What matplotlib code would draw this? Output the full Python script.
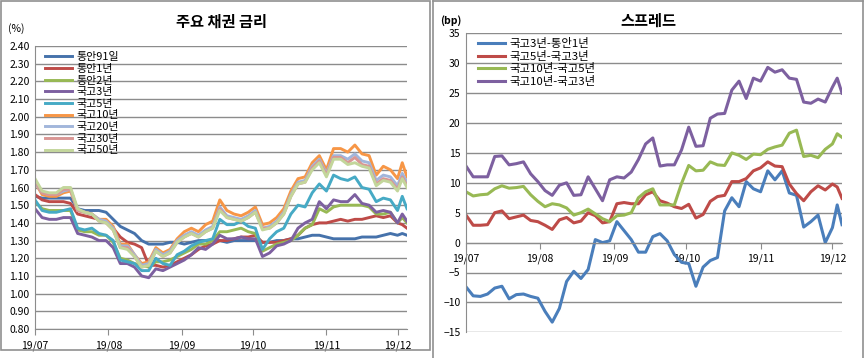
import matplotlib
matplotlib.use('Agg')
import matplotlib.pyplot as plt
import matplotlib.dates as mdates
import matplotlib.ticker as mticker
from matplotlib.patches import Rectangle
from matplotlib.lines import Line2D
import numpy as np
import pandas as pd

plt.rcParams['font.family'] = ['Noto Sans CJK KR', 'DejaVu Sans']

# days after 2019-07-01
days = list(range(0, 154, 3)) + [155, 157]

# 주요 채권 금리 (%)
tb91 = [1.55, 1.54, 1.54, 1.54, 1.54, 1.54, 1.48, 1.47, 1.47, 1.47,
        1.46, 1.42, 1.38, 1.36, 1.34, 1.30, 1.28, 1.28, 1.28, 1.29,
        1.29, 1.28, 1.29, 1.30, 1.30, 1.30, 1.30, 1.29, 1.30, 1.30,
        1.30, 1.30, 1.29, 1.29, 1.30, 1.30, 1.31, 1.31, 1.32, 1.33,
        1.33, 1.32, 1.31, 1.31, 1.31, 1.31, 1.32, 1.32, 1.32, 1.33,
        1.34, 1.33, 1.34, 1.33]
ms1 = [1.56, 1.53, 1.52, 1.52, 1.52, 1.51, 1.45, 1.44, 1.43, 1.42,
       1.41, 1.37, 1.32, 1.29, 1.28, 1.26, 1.16, 1.16, 1.15, 1.16,
       1.18, 1.20, 1.22, 1.25, 1.27, 1.28, 1.30, 1.30, 1.31, 1.32,
       1.32, 1.33, 1.29, 1.29, 1.29, 1.30, 1.31, 1.33, 1.37, 1.39,
       1.40, 1.40, 1.41, 1.42, 1.41, 1.42, 1.42, 1.43, 1.44, 1.43,
       1.44, 1.40, 1.39, 1.37]
ms2 = [1.52, 1.48, 1.47, 1.47, 1.47, 1.47, 1.36, 1.35, 1.35, 1.33,
       1.33, 1.29, 1.20, 1.19, 1.17, 1.16, 1.15, 1.18, 1.18, 1.19,
       1.21, 1.23, 1.25, 1.28, 1.28, 1.30, 1.35, 1.35, 1.36, 1.37,
       1.35, 1.34, 1.24, 1.26, 1.28, 1.29, 1.30, 1.33, 1.37, 1.39,
       1.48, 1.46, 1.49, 1.50, 1.50, 1.50, 1.50, 1.49, 1.45, 1.45,
       1.46, 1.40, 1.43, 1.40]
kt3 = [1.48, 1.43, 1.42, 1.42, 1.43, 1.43, 1.34, 1.33, 1.32, 1.30,
       1.30, 1.26, 1.17, 1.17, 1.15, 1.10, 1.09, 1.14, 1.13, 1.15,
       1.17, 1.19, 1.22, 1.26, 1.25, 1.28, 1.33, 1.31, 1.31, 1.32,
       1.31, 1.31, 1.21, 1.23, 1.27, 1.28, 1.30, 1.37, 1.40, 1.42,
       1.52, 1.48, 1.53, 1.52, 1.52, 1.56, 1.51, 1.50, 1.46, 1.47,
       1.46, 1.40, 1.45, 1.41]
kt5 = [1.53, 1.47, 1.46, 1.46, 1.47, 1.48, 1.37, 1.36, 1.37, 1.34,
       1.33, 1.30, 1.19, 1.18, 1.17, 1.13, 1.13, 1.20, 1.17, 1.16,
       1.22, 1.24, 1.27, 1.29, 1.30, 1.31, 1.42, 1.39, 1.39, 1.41,
       1.38, 1.37, 1.25, 1.31, 1.35, 1.37, 1.45, 1.50, 1.49, 1.57,
       1.62, 1.58, 1.67, 1.65, 1.64, 1.66, 1.60, 1.59, 1.52, 1.54,
       1.53, 1.47, 1.55, 1.48]
kt10 = [1.63, 1.56, 1.55, 1.55, 1.57, 1.58, 1.47, 1.46, 1.45, 1.42,
        1.42, 1.38, 1.28, 1.28, 1.22, 1.17, 1.18, 1.26, 1.23, 1.25,
        1.31, 1.35, 1.37, 1.35, 1.39, 1.41, 1.53, 1.47, 1.45, 1.44,
        1.46, 1.49, 1.39, 1.40, 1.43, 1.48, 1.58, 1.65, 1.66, 1.74,
        1.78, 1.70, 1.82, 1.82, 1.80, 1.84, 1.79, 1.78, 1.67, 1.72,
        1.70, 1.65, 1.74, 1.66]
kt20 = [1.63, 1.57, 1.56, 1.56, 1.58, 1.59, 1.47, 1.46, 1.45, 1.42,
        1.41, 1.37, 1.27, 1.27, 1.22, 1.16, 1.17, 1.25, 1.22, 1.24,
        1.30, 1.33, 1.35, 1.33, 1.36, 1.38, 1.49, 1.44, 1.43, 1.42,
        1.44, 1.47, 1.37, 1.38, 1.41, 1.46, 1.56, 1.63, 1.64, 1.72,
        1.76, 1.68, 1.78, 1.78, 1.76, 1.79, 1.75, 1.74, 1.64, 1.67,
        1.66, 1.61, 1.68, 1.63]
kt30 = [1.64, 1.57, 1.56, 1.56, 1.59, 1.59, 1.47, 1.46, 1.45, 1.41,
        1.40, 1.36, 1.26, 1.26, 1.21, 1.15, 1.16, 1.24, 1.21, 1.23,
        1.29, 1.32, 1.34, 1.32, 1.35, 1.37, 1.48, 1.43, 1.42, 1.41,
        1.43, 1.46, 1.37, 1.37, 1.40, 1.45, 1.55, 1.62, 1.63, 1.71,
        1.75, 1.67, 1.77, 1.77, 1.74, 1.77, 1.73, 1.72, 1.62, 1.65,
        1.64, 1.59, 1.66, 1.61]
kt50 = [1.65, 1.58, 1.57, 1.57, 1.60, 1.60, 1.48, 1.46, 1.45, 1.41,
        1.40, 1.36, 1.26, 1.25, 1.21, 1.15, 1.16, 1.24, 1.21, 1.23,
        1.29, 1.32, 1.34, 1.32, 1.35, 1.37, 1.47, 1.43, 1.42, 1.41,
        1.43, 1.46, 1.36, 1.37, 1.40, 1.45, 1.55, 1.62, 1.63, 1.70,
        1.74, 1.66, 1.76, 1.76, 1.73, 1.74, 1.72, 1.71, 1.61, 1.64,
        1.63, 1.58, 1.65, 1.60]

# 스프레드 (bp)
sp_3_1 = [-7.4, -8.9, -9.0, -8.6, -7.6, -7.3, -9.4, -8.7, -8.6, -9.0,
          -9.3, -11.5, -13.3, -11.0, -6.5, -4.8, -6.0, -4.5, 0.5, 0.0,
          0.3, 3.5, 2.0, 0.5, -1.6, -1.6, 1.0, 1.5, 0.3, -2.0,
          -3.3, -3.5, -7.3, -4.1, -3.0, -2.5, 5.3, 7.5, 6.0, 10.2,
          9.0, 8.5, 12.0, 10.5, 12.0, 8.3, 7.9, 2.6, 3.5, 4.6,
          0.0, 2.5, 6.3, 3.0]
sp_5_3 = [4.6, 2.9, 2.9, 3.0, 5.0, 5.3, 4.0, 4.3, 4.6, 3.7,
          3.5, 2.9, 2.2, 3.8, 4.2, 3.3, 3.6, 5.0, 4.5, 3.3,
          3.5, 6.5, 6.7, 6.5, 6.5, 8.0, 8.5, 7.0, 6.6, 6.0,
          5.7, 6.4, 4.1, 4.7, 6.9, 7.7, 7.9, 10.2, 10.2, 10.7,
          12.0, 12.5, 13.5, 12.8, 12.7, 9.8, 8.2, 7.0, 8.5, 9.5,
          8.8, 9.8, 9.3, 7.4]
sp_10_5 = [8.5, 7.8, 8.0, 8.1, 9.0, 9.5, 9.1, 9.2, 9.4, 8.0,
           6.9, 6.0, 6.5, 6.3, 5.8, 4.6, 5.0, 5.6, 4.8, 4.0,
           3.5, 4.5, 4.6, 5.0, 7.5, 8.5, 9.0, 6.3, 6.3, 6.3,
           9.9, 12.9, 12.0, 12.1, 13.5, 13.0, 12.9, 15.0, 14.6, 13.9,
           14.8, 14.7, 15.6, 16.0, 16.3, 18.3, 18.8, 14.4, 14.6, 14.2,
           15.6, 16.5, 18.2, 17.6]
sp_10_3 = [12.8, 11.0, 11.0, 11.0, 14.4, 14.5, 13.0, 13.2, 13.5, 11.5,
           10.2, 8.7, 7.9, 9.6, 10.0, 7.9, 8.0, 11.0, 9.0, 7.0,
           10.5, 11.0, 10.8, 11.8, 13.9, 16.5, 17.5, 12.8, 13.0, 13.0,
           15.5, 19.3, 16.1, 16.2, 20.8, 21.5, 21.6, 25.5, 27.0, 24.1,
           27.5, 27.0, 29.3, 28.5, 28.9, 27.5, 27.3, 23.5, 23.3, 24.0,
           23.5, 26.0, 27.5, 25.0]

left_names = ['통안91일', '통안1년', '통안2년', '국고3년', '국고5년',
              '국고10년', '국고20년', '국고30년', '국고50년']
left_series = [tb91, ms1, ms2, kt3, kt5, kt10, kt20, kt30, kt50]
left_colors = ['#4672AB', '#BE4B48', '#98B954', '#7D60A0', '#46AAC5',
               '#F79646', '#A2B6DB', '#D99694', '#C3D69B']

right_names = ['국고3년-통안1년', '국고5년-국고3년', '국고10년-국고5년', '국고10년-국고3년']
right_series = [sp_3_1, sp_5_3, sp_10_5, sp_10_3]
right_colors = ['#4A7EBB', '#BE4B48', '#98B954', '#7D60A0']

dates = pd.Timestamp('2019-07-01') + pd.to_timedelta(days, unit='D')

W, H = 866, 358
GRID = '#8C8C8C'
fig = plt.figure(figsize=(W / 100, H / 100), dpi=100)


def box(x0, y0, x1, y1):
    return [x0 / W, 1 - y1 / H, (x1 - x0) / W, (y1 - y0) / H]


# panel frames
fig.add_artist(Rectangle((1 / W, 1 - 350 / H), 429 / W, 349 / H, transform=fig.transFigure,
                         fill=False, ec='#909090', lw=1.2))
for xp in [433, 863]:
    fig.add_artist(Line2D([xp / W, xp / W], [0, 1 - 1 / H], transform=fig.transFigure,
                          color='#909090', lw=1.2))
fig.add_artist(Line2D([433 / W, 863 / W], [1 - 1 / H, 1 - 1 / H], transform=fig.transFigure,
                      color='#909090', lw=1.2))

ax1 = fig.add_axes(box(35, 46, 407, 329))
ax2 = fig.add_axes(box(466, 33.3, 842, 332.3))

for ax in [ax1, ax2]:
    ax.set_axisbelow(True)
    ax.yaxis.grid(True, color=GRID, lw=1)
    for s in ['top', 'right']:
        ax.spines[s].set_visible(False)
    ax.spines['left'].set_color(GRID)
    ax.spines['bottom'].set_color(GRID)
    ax.xaxis.set_major_locator(mdates.MonthLocator())
    ax.xaxis.set_major_formatter(mdates.DateFormatter('%y/%m'))
    ax.set_xlim(dates[0], dates[-1])
    ax.tick_params(axis='x', direction='out', length=4, color=GRID, labelsize=7.5, pad=4)
    ax.tick_params(axis='y', length=0, labelsize=7.5, pad=4)

for vals, name, col in zip(left_series, left_names, left_colors):
    ax1.plot(dates, vals, color=col, lw=2.1, label=name, solid_joinstyle='round')
ax1.set_ylim(0.8, 2.4)
ax1.set_yticks(np.arange(0.8, 2.41, 0.1))
ax1.yaxis.set_major_formatter(mticker.FormatStrFormatter('%.2f'))
ax1.legend(loc='upper left', bbox_to_anchor=(0.027, 0.978), frameon=False, fontsize=7.9,
           borderaxespad=0, borderpad=0, handlelength=2.5, handletextpad=0.35,
           labelspacing=0.15)

for vals, name, col in zip(right_series, right_names, right_colors):
    ax2.plot(dates, vals, color=col, lw=2.2, label=name, solid_joinstyle='round')
ax2.set_ylim(-15, 35)
ax2.set_yticks(np.arange(-15, 36, 5))
ax2.spines['bottom'].set_position(('data', 0))
ax2.legend(loc='upper left', bbox_to_anchor=(0.032, 0.983), frameon=False, fontsize=8.2,
           borderaxespad=0, borderpad=0, handlelength=2.4, handletextpad=0.35,
           labelspacing=0.13)

fig.text(221 / W, 1 - 22 / H, '주요 채권 금리', ha='center', va='center',
         fontsize=11, fontweight='bold')
fig.text(648 / W, 1 - 21 / H, '스프레드', ha='center', va='center',
         fontsize=11, fontweight='bold')
fig.text(16 / W, 1 - 29 / H, '(%)', ha='center', va='center', fontsize=7.5)
fig.text(451 / W, 1 - 21 / H, '(bp)', ha='center', va='center', fontsize=7.5, fontweight='bold')

fig.savefig('out.png', dpi=100)
